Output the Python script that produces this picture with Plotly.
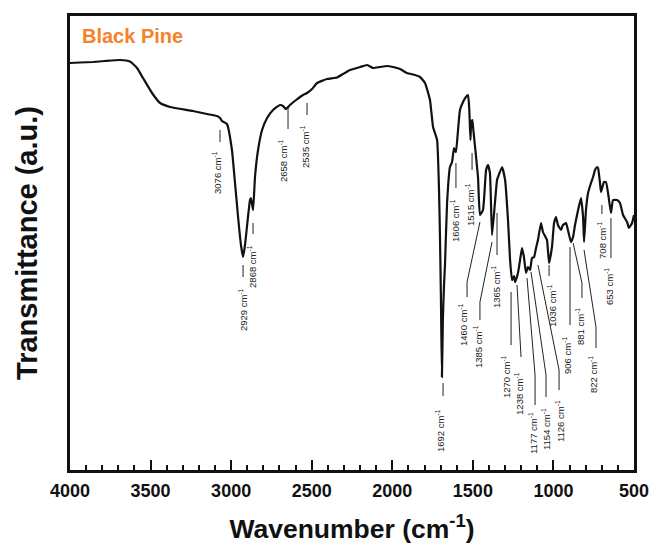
import plotly.graph_objects as go

# ---- spectrum (wavenumber in cm-1, transmittance in arbitrary units) ----
wavenumber = [
    4000, 3938, 3857, 3783, 3690, 3628, 3584, 3547, 3491, 3441, 3379, 3237, 3150, 3088, 3069,
    3057, 3026, 2995, 2976, 2957, 2939, 2926, 2914, 2902, 2883, 2877, 2864, 2852, 2833, 2808,
    2777, 2740, 2697, 2678, 2660, 2635, 2597, 2554, 2529, 2498, 2467, 2405, 2343, 2306, 2262,
    2200, 2157, 2138, 2120, 2076, 2033, 1996, 1952, 1909, 1859, 1828, 1797, 1766, 1747, 1722,
    1710, 1704, 1698, 1692, 1686, 1679, 1673, 1660, 1642, 1629, 1617, 1605, 1592, 1580, 1561,
    1543, 1530, 1522, 1515, 1510, 1503, 1497, 1468, 1456, 1437, 1418, 1406, 1394, 1381, 1363,
    1350, 1344, 1319, 1300, 1282, 1269, 1257, 1245, 1238, 1220, 1207, 1195, 1183, 1170, 1158,
    1145, 1133, 1120, 1108, 1096, 1077, 1065, 1052, 1040, 1027, 1009, 996, 984, 972, 953,
    941, 922, 910, 891, 878, 866, 847, 829, 816, 810, 798, 785, 767, 754, 742,
    729, 723, 711, 705, 686, 674, 661, 643, 630, 605, 587, 568, 543, 531, 512, 500,
]
transmittance = [
    407, 407.5, 408, 409, 410, 408.5, 402, 392, 377, 367, 363, 359, 356, 354, 352,
    349, 346, 320, 287, 253, 225, 213, 225, 243, 270, 272, 260, 293, 320, 340,
    352, 360, 365, 364, 361, 365, 370, 375, 377, 381, 387, 391, 392.5, 396, 400,
    403, 405, 403.5, 402, 403, 404, 403, 401, 397, 395, 393, 387, 370, 343, 330,
    280, 233, 170, 93, 150, 185, 205, 267, 303, 308, 322, 318, 340, 360, 368,
    373, 375, 360, 330, 348, 350, 340, 293, 255, 260, 300, 305, 297, 235, 267,
    290, 293, 303, 290, 250, 210, 190, 194, 188, 197, 210, 222, 213, 197, 203,
    200, 212, 213, 222, 230, 247, 238, 234, 230, 207, 223, 247, 253, 245, 240,
    245, 247, 240, 228, 233, 245, 260, 272, 253, 228, 260, 277, 287, 293, 300,
    303, 302, 287, 278, 288, 288, 277, 257, 270, 270, 267, 255, 248, 242, 247, 255,
]

# ---- peak labels ----
peak_labels = ["3076", "2929", "2868", "2658", "2535", "1692", "1606", "1515", "1460", "1385", "1365",
               "1270", "1238", "1177", "1154", "1126", "1036", "906", "881", "822", "708", "653"]

# label placement: text centre (wavenumber, a.u.) and leader line points
label_pos = [
    (3088, 298), (2926, 160), (2871, 204), (2678, 309), (2542, 324), (1704, 40), (1611, 250),
    (1518, 266), (1561, 145), (1468, 123), (1356, 183), (1294, 93), (1214, 77), (1127, 37),
    (1046, 41), (959, 49), (1009, 165), (916, 115), (835, 143), (754, 95), (699, 230), (655, 183),
]
leaders = [
    [(3069, 340), (3069, 328)],
    [(2926, 205), (2926, 193)],
    [(2864, 247), (2864, 236)],
    [(2647, 362), (2647, 341)],
    [(2529, 367), (2529, 355)],
    [(1685, 87), (1685, 74)],
    [(1605, 307), (1605, 282)],
    [(1505, 317), (1505, 300)],
    [(1456, 248), (1536, 188), (1536, 173)],
    [(1381, 228), (1456, 168), (1456, 150)],
    [(1350, 257), (1350, 215)],
    [(1263, 178), (1263, 125)],
    [(1226, 185), (1201, 113)],
    [(1164, 192), (1114, 95), (1114, 65)],
    [(1139, 198), (1046, 95), (1046, 73)],
    [(1096, 205), (965, 100), (965, 80)],
    [(1027, 205), (1027, 194)],
    [(897, 223), (897, 145)],
    [(878, 227), (823, 187), (823, 172)],
    [(810, 220), (736, 143), (736, 122)],
    [(699, 265), (699, 256)],
    [(643, 252), (643, 212)],
]

FONT = "Arial, Liberation Sans, sans-serif"

fig = go.Figure()
fig.add_trace(go.Scatter(
    x=wavenumber, y=transmittance, mode="lines",
    line=dict(color="#111111", width=2.2, shape="spline", smoothing=0.4),
    showlegend=False, hoverinfo="skip",
))

shapes = []
for pts in leaders:
    path = "M " + " L ".join(f"{x},{y}" for x, y in pts)
    shapes.append(dict(type="path", path=path, xref="x", yref="y",
                       line=dict(color="#222222", width=1)))

annotations = []
for lab, (lx, ly) in zip(peak_labels, label_pos):
    annotations.append(dict(
        x=lx, y=ly, xref="x", yref="y", text=f"{lab} cm<sup>-1</sup>",
        textangle=-90, showarrow=False, xanchor="center", yanchor="middle",
        font=dict(family=FONT, size=9.5, color="#222222"),
    ))

annotations.append(dict(
    x=0.018, y=0.955, xref="paper", yref="paper", text="<b>Black Pine</b>",
    showarrow=False, xanchor="left", yanchor="middle",
    font=dict(family=FONT, size=20, color="#F5822A"),
))

fig.update_layout(
    width=655, height=544,
    margin=dict(l=70, r=21, t=16, b=74),
    paper_bgcolor="white", plot_bgcolor="white",
    shapes=shapes, annotations=annotations,
    xaxis=dict(
        range=[4000, 500], showgrid=False, zeroline=False, automargin=False,
        showline=True, linecolor="#111111", linewidth=2.5, mirror=True,
        ticks="inside", ticklen=10, tickwidth=2, tickcolor="#111111",
        tickvals=[4000, 3500, 3000, 2500, 2000, 1500, 1000, 500],
        minor=dict(ticks="inside", ticklen=5, tickwidth=1.5, tickcolor="#111111", dtick=100, showgrid=False),
        tickfont=dict(family=FONT, size=18, color="#111111", weight="bold"),
        ticklabelstandoff=3,
        title=dict(text="<b>Wavenumber (cm<sup>-1</sup>)</b>", standoff=22,
                   font=dict(family=FONT, size=26.5, color="#111111")),
    ),
    yaxis=dict(
        range=[0, 454], showgrid=False, zeroline=False, showticklabels=False, automargin=False,
        showline=True, linecolor="#111111", linewidth=2.5, mirror=True, ticks="",
        title=dict(text="<b>Transmittance (a.u.)</b>", standoff=22,
                   font=dict(family=FONT, size=29, color="#111111")),
    ),
)

fig.write_html("out.html")
